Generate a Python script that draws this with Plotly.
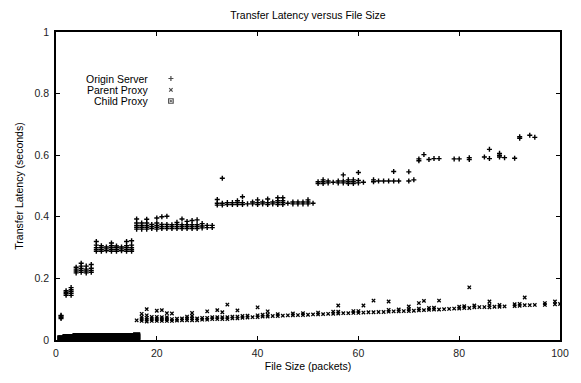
import plotly.graph_objects as go

# ---------------- data ----------------
origin_sizes = list(range(1, 62)) + [63, 64, 65, 66, 67, 68, 70, 71, 72, 73, 74, 75, 76,
                                     79, 80, 82, 85, 86, 88, 89, 91, 92, 94, 95]
origin_latency = [
    [0.070, 0.074, 0.078, 0.080],            # 1
    [0.145, 0.150, 0.155, 0.160],            # 2
    [0.145, 0.152, 0.158, 0.163, 0.170],     # 3
    [0.218, 0.224, 0.230, 0.236],            # 4
    [0.220, 0.226, 0.232, 0.240, 0.249],     # 5
    [0.218, 0.224, 0.230, 0.240],            # 6
    [0.220, 0.226, 0.233, 0.245],            # 7
    [0.288, 0.294, 0.300, 0.308, 0.320],     # 8
    [0.288, 0.294, 0.300, 0.306],            # 9
    [0.290, 0.296, 0.302],                   # 10
    [0.288, 0.294, 0.300, 0.306, 0.315],     # 11
    [0.288, 0.294, 0.300, 0.305],            # 12
    [0.290, 0.296, 0.302],                   # 13
    [0.288, 0.294, 0.300, 0.306, 0.320],     # 14
    [0.288, 0.294, 0.300, 0.308, 0.322],     # 15
    [0.360, 0.366, 0.372, 0.380, 0.393],     # 16
    [0.360, 0.366, 0.372, 0.380],            # 17
    [0.360, 0.366, 0.372, 0.380, 0.392],     # 18
    [0.362, 0.368, 0.375],                   # 19
    [0.360, 0.366, 0.372, 0.380, 0.396],     # 20
    [0.362, 0.368, 0.375, 0.400],            # 21
    [0.362, 0.368, 0.375, 0.402],            # 22
    [0.362, 0.368, 0.374],                   # 23
    [0.362, 0.368, 0.375, 0.382],            # 24
    [0.362, 0.368, 0.374, 0.393],            # 25
    [0.362, 0.368, 0.374, 0.385],            # 26
    [0.362, 0.368, 0.374, 0.388],            # 27
    [0.362, 0.368, 0.374, 0.390],            # 28
    [0.364, 0.370, 0.378],                   # 29
    [0.365, 0.372],                          # 30
    [0.365, 0.372],                          # 31
    [0.438, 0.444, 0.456],                   # 32
    [0.438, 0.444, 0.525],                   # 33
    [0.440, 0.446],                          # 34
    [0.440, 0.446],                          # 35
    [0.440, 0.446, 0.452],                   # 36
    [0.440, 0.446, 0.465],                   # 37
    [0.442],                                 # 38
    [0.442, 0.448],                          # 39
    [0.440, 0.446, 0.455],                   # 40
    [0.442, 0.448],                          # 41
    [0.440, 0.446, 0.458],                   # 42
    [0.442, 0.448],                          # 43
    [0.440, 0.446, 0.452, 0.462],            # 44
    [0.440, 0.446, 0.452, 0.462],            # 45
    [0.444],                                 # 46
    [0.442, 0.448],                          # 47
    [0.442, 0.448],                          # 48
    [0.442, 0.448],                          # 49
    [0.442, 0.448, 0.455],                   # 50
    [0.444],                                 # 51
    [0.508, 0.514],                          # 52
    [0.508, 0.514, 0.520],                   # 53
    [0.510, 0.516],                          # 54
    [0.512],                                 # 55
    [0.510, 0.516],                          # 56
    [0.510, 0.516, 0.536],                   # 57
    [0.508, 0.514, 0.520],                   # 58
    [0.508, 0.514, 0.520],                   # 59
    [0.510, 0.518, 0.544],                   # 60
    [0.512],                                 # 61
    [0.514, 0.520],                          # 63
    [0.516],                                 # 64
    [0.516],                                 # 65
    [0.516],                                 # 66
    [0.516, 0.547],                          # 67
    [0.516],                                 # 68
    [0.516, 0.546],                          # 70
    [0.520],                                 # 71
    [0.582, 0.588],                          # 72
    [0.602],                                 # 73
    [0.586],                                 # 74
    [0.589],                                 # 75
    [0.589],                                 # 76
    [0.588],                                 # 79
    [0.588],                                 # 80
    [0.586, 0.592],                          # 82
    [0.594],                                 # 85
    [0.589, 0.619],                          # 86
    [0.594, 0.600, 0.606],                   # 88
    [0.592],                                 # 89
    [0.590],                                 # 91
    [0.655, 0.660],                          # 92
    [0.665],                                 # 94
    [0.658],                                 # 95
]

parent_sizes = list(range(1, 90)) + [91, 92, 93, 94, 95, 97, 99, 100]
parent_latency = (
    [[0.005, 0.009]] * 15 +                  # 1-15 (under the child proxy bar)
    [
        [0.064],                             # 16
        [0.062, 0.068, 0.075, 0.085],        # 17
        [0.060, 0.066, 0.072, 0.080, 0.100], # 18
        [0.062, 0.068, 0.075],               # 19
        [0.062, 0.068, 0.075, 0.095],        # 20
        [0.062, 0.068, 0.074, 0.097],        # 21
        [0.062, 0.068, 0.074, 0.087],        # 22
        [0.062, 0.068, 0.086],               # 23
        [0.063, 0.069],                      # 24
        [0.064, 0.070],                      # 25
        [0.064, 0.070, 0.076],               # 26
        [0.064, 0.070, 0.078, 0.088],        # 27
        [0.064, 0.070],                      # 28
        [0.066, 0.072],                      # 29
        [0.066, 0.072, 0.093],               # 30
        [0.068, 0.074],                      # 31
        [0.068, 0.074, 0.097],               # 32
        [0.068, 0.074, 0.090],               # 33
        [0.068, 0.074, 0.115],               # 34
        [0.070, 0.076],                      # 35
        [0.070, 0.076, 0.096],               # 36
        [0.072, 0.078],                      # 37
        [0.073, 0.079],                      # 38
        [0.074],                             # 39
        [0.074, 0.080, 0.106],               # 40
        [0.076, 0.082],                      # 41
        [0.076, 0.082, 0.093],               # 42
        [0.078],                             # 43
        [0.078, 0.084],                      # 44
        [0.079],                             # 45
        [0.080],                             # 46
        [0.080, 0.086],                      # 47
        [0.081],                             # 48
        [0.081, 0.087],                      # 49
        [0.082],                             # 50
        [0.083],                             # 51
        [0.083, 0.089],                      # 52
        [0.084],                             # 53
        [0.085],                             # 54
        [0.085, 0.092],                      # 55
        [0.086, 0.092, 0.112],               # 56
        [0.087],                             # 57
        [0.087],                             # 58
        [0.088, 0.094],                      # 59
        [0.088, 0.094],                      # 60
        [0.089, 0.112],                      # 61
        [0.090],                             # 62
        [0.090, 0.128],                      # 63
        [0.091],                             # 64
        [0.091],                             # 65
        [0.092, 0.098, 0.125],               # 66
        [0.093],                             # 67
        [0.093, 0.099],                      # 68
        [0.094],                             # 69
        [0.094, 0.100, 0.109],               # 70
        [0.095],                             # 71
        [0.096, 0.102, 0.120],               # 72
        [0.097, 0.127],                      # 73
        [0.098, 0.104],                      # 74
        [0.099, 0.105],                      # 75
        [0.099, 0.128],                      # 76
        [0.100],                             # 77
        [0.101],                             # 78
        [0.102],                             # 79
        [0.102, 0.108],                      # 80
        [0.104, 0.110],                      # 81
        [0.104, 0.171],                      # 82
        [0.106, 0.112],                      # 83
        [0.107],                             # 84
        [0.107],                             # 85
        [0.106, 0.113, 0.125],               # 86
        [0.108],                             # 87
        [0.108, 0.114],                      # 88
        [0.109],                             # 89
        [0.110, 0.116],                      # 91
        [0.111, 0.117],                      # 92
        [0.113, 0.138],                      # 93
        [0.113],                             # 94
        [0.114],                             # 95
        [0.114, 0.120],                      # 97
        [0.116, 0.125],                      # 99
        [0.117],                             # 100
    ]
)

child_sizes = list(range(1, 17))
child_latency = (
    [[0.002, 0.003, 0.004]] +
    [[0.003, 0.005, 0.006, 0.008]] * 2 +
    [[0.004, 0.006, 0.008, 0.010, 0.011]] * 12 +
    [[0.006, 0.008, 0.010, 0.012, 0.014]]
)

series_names = ["Origin Server", "Parent Proxy", "Child Proxy"]
series_symbols = ["cross-thin", "x-thin", "square-open-dot"]

x_ticks = [0, 20, 40, 60, 80, 100]
x_tick_text = ["0", "20", "40", "60", "80", "100"]
y_ticks = [0, 0.2, 0.4, 0.6, 0.8, 1.0]
y_tick_text = ["0", "0.2", "0.4", "0.6", "0.8", "1"]


def flatten(sizes, lats):
    xs, ys = [], []
    for s, vals in zip(sizes, lats):
        for v in vals:
            xs.append(s)
            ys.append(v)
    return xs, ys


FONT = "Liberation Sans, Arial, Helvetica, sans-serif"
fig = go.Figure()

all_series = [
    flatten(origin_sizes, origin_latency),
    flatten(parent_sizes, parent_latency),
    flatten(child_sizes, child_latency),
]
marker_sizes = [3.6, 3.4, 4.5]
line_widths = [1.4, 1.3, 2.6]
for (xs, ys), name, sym, ms, lw in zip(all_series, series_names, series_symbols,
                                       marker_sizes, line_widths):
    fig.add_trace(go.Scatter(
        x=xs, y=ys, mode="markers", name=name, showlegend=False,
        marker=dict(symbol=sym, size=ms, color="black",
                    line=dict(color="black", width=lw)),
        hoverinfo="skip",
    ))

# legend keys (text left, symbol right, like gnuplot) on an overlay axis
legend_y = [0.849, 0.812, 0.776]
fig.add_trace(go.Scatter(
    x=[0.228] * 3, y=legend_y, mode="markers", showlegend=False,
    xaxis="x2", yaxis="y2", hoverinfo="skip",
    marker=dict(symbol=series_symbols, size=[3.6, 3.4, 4.5], color="black",
                line=dict(color="black", width=1.2)),
))
for name, yy in zip(series_names, legend_y):
    fig.add_annotation(xref="paper", yref="paper", x=0.186, y=yy, text=name,
                       showarrow=False, xanchor="right", yanchor="middle",
                       font=dict(family=FONT, size=10.5, color="black"))

axis_common = dict(showline=True, linecolor="black", linewidth=1.5, mirror="ticks",
                   ticks="inside", ticklen=4, tickwidth=1, tickcolor="black",
                   showgrid=False, zeroline=False,
                   tickfont=dict(family=FONT, size=10.5, color="#222"))

fig.update_layout(
    width=581, height=383,
    margin=dict(l=56, r=16, t=32, b=37),
    paper_bgcolor="white", plot_bgcolor="white",
    title=dict(text="Transfer Latency versus File Size", x=0.5, xref="paper",
               y=1 - 15 / 383, yref="container", yanchor="middle", xanchor="center",
               font=dict(family=FONT, size=10.5, color="black")),
    xaxis=dict(range=[0, 100], tickvals=x_ticks, ticktext=x_tick_text,
               ticklabelstandoff=3,
               title=dict(text="File Size (packets)", standoff=4,
                          font=dict(family=FONT, size=10.5, color="black")),
               **axis_common),
    yaxis=dict(range=[0, 1], tickvals=y_ticks, ticktext=y_tick_text,
               ticklabelstandoff=3,
               title=dict(text="Transfer Latency (seconds)", standoff=9,
                          font=dict(family=FONT, size=10.5, color="black")),
               **axis_common),
    xaxis2=dict(range=[0, 1], overlaying="x", visible=False, fixedrange=True),
    yaxis2=dict(range=[0, 1], overlaying="y", visible=False, fixedrange=True),
    font=dict(family=FONT, size=10.5, color="black"),
)

fig.write_html("out.html")
